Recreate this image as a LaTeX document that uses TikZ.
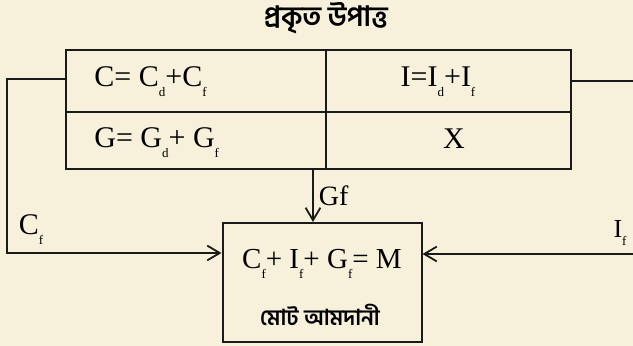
\documentclass[tikz,border=0pt]{standalone}
\usepackage{fontspec}
\setmainfont{Liberation Serif}
\newfontfamily\bn[Script=Bengali]{Hind Siliguri}
\usetikzlibrary{arrows.meta,calc}
\definecolor{ink}{HTML}{1A1A1A}
\definecolor{paper}{HTML}{F7F0DA}
\newcommand{\lo}[1]{\raisebox{-0.72ex}{\fontsize{6.5}{7}\selectfont #1}}
\tikzset{box/.style={draw=ink,line width=1pt,inner sep=0pt}, arr/.style={-{Straight Barb[length=2.2mm,width=2.6mm]},line width=0.9pt,draw=ink}, cell/.style={font=\fontsize{15}{18}\selectfont,anchor=west,inner sep=0pt}, lbl/.style={font=\fontsize{15}{18}\selectfont,inner sep=0pt}, bntext/.style={font=\bn\bfseries\fontsize{14}{16}\selectfont,inner sep=0pt}}
\begin{document}
\begin{tikzpicture}[x=0.5pt,y=-0.5pt]
\fill[paper] (0,0) rectangle (633,346);
\useasboundingbox (0,0) rectangle (633,346);
% data table
\node[bntext] (title) at (326,18) {প্রকৃত উপাত্ত};
\node[box,minimum width=252.5pt,minimum height=59.5pt] (data) at (318.5,109.5) {};
\coordinate (mid) at (0,112); \coordinate (div) at (326,0);
\draw[ink,line width=1pt] (data.west |- mid) -- (data.east |- mid);
\draw[ink,line width=1pt] (data.north -| div) -- (data.south -| div);
\node[cell] (cC) at (94,82) {C= C\lo{d}+C\lo{f}};
\node[cell] (cG) at (94,143) {G= G\lo{d}+ G\lo{f}};
\node[lbl] (cI) at (438,82) {I=I\lo{d}+I\lo{f}};
\node[lbl] (cX) at (454,139) {X};
% import box
\node[box,minimum width=99.5pt,minimum height=59.5pt] (mport) at (322,282.5) {};
\node[lbl,font=\fontsize{14.5}{17}\selectfont] (eqM) at (322,264) {C\lo{f}+ I\lo{f}+ G\lo{f}= M};
\node[bntext,font=\bn\bfseries\fontsize{11}{13}\selectfont] (mlabel) at (320,315) {মোট আমদানী};
% connectors
\coordinate (lt) at (7,79); \coordinate (lb) at (7,253);
\draw[arr] (data.west |- lt) -- (lt) -- (lb) -- (mport.west |- lb);
\coordinate (rt) at (633,81); \coordinate (rb) at (633,254);
\draw[ink,line width=0.9pt] (data.east |- rt) -- (rt);
\draw[arr] (rb) -- (mport.east |- rb);
\coordinate (gf) at (313,0);
\draw[arr] (data.south -| gf) -- node[lbl,font=\fontsize{14}{16}\selectfont,right=2.5pt] (lGf) {Gf} (mport.north -| gf);
\node[lbl] (lCf) at (31,230) {C\lo{f}};
\node[lbl,font=\fontsize{13}{15}\selectfont] (lIf) at (620,233) {I\lo{f}};
\end{tikzpicture}
\end{document}
